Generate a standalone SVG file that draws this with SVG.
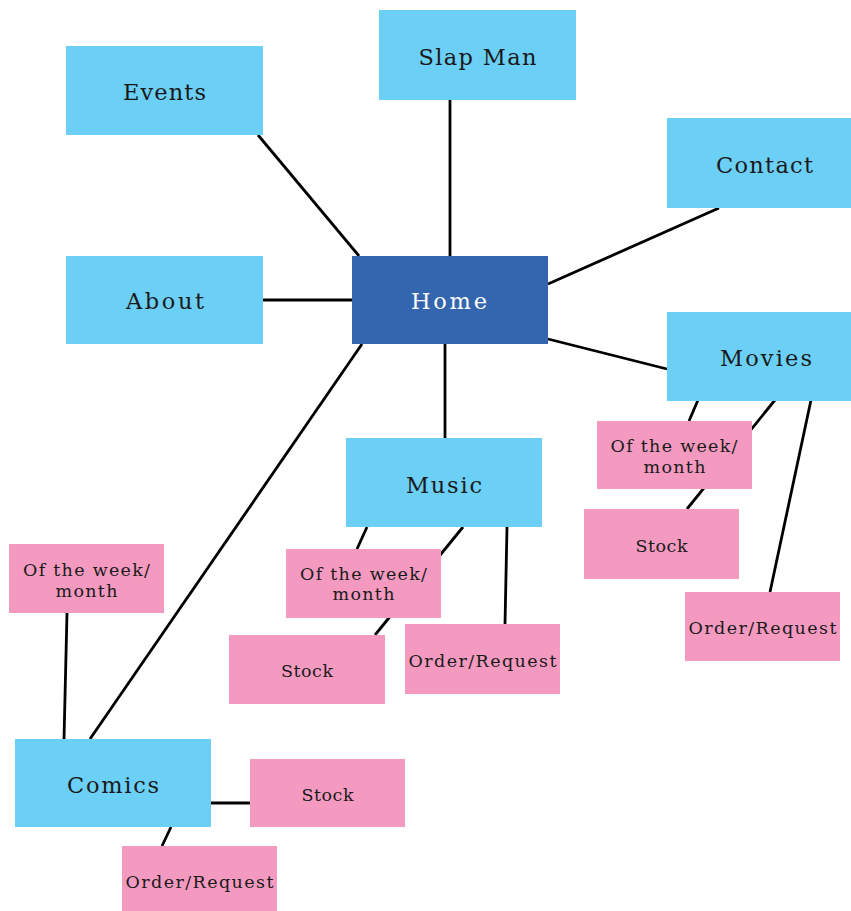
<svg xmlns="http://www.w3.org/2000/svg" width="851" height="911" viewBox="0 0 851 911">
<style>
.main{fill:#6ccff6}
.home{fill:#3466b0}
.sub{fill:#f49ac1}
text{font-family:"DejaVu Serif","Liberation Serif",serif;text-anchor:middle;fill:#1a1a1a}
.t1{font-size:22.5px}
.t2{font-size:17.5px}
.w{fill:#ffffff}
#connectors line{stroke:#000;stroke-width:2.8;stroke-linecap:butt}
</style>
<rect width="851" height="911" fill="#ffffff"/>
<g id="connectors">
<line x1="258" y1="135" x2="359" y2="256"/>
<line x1="450" y1="100" x2="450" y2="256"/>
<line x1="719" y1="208" x2="548" y2="284"/>
<line x1="263" y1="300" x2="352" y2="300"/>
<line x1="548" y1="339" x2="667" y2="369"/>
<line x1="445" y1="344" x2="445" y2="438"/>
<line x1="362" y1="344" x2="90" y2="739"/>
<line x1="367" y1="527" x2="357" y2="549"/>
<line x1="463" y1="527" x2="375" y2="635"/>
<line x1="507" y1="527" x2="505" y2="624"/>
<line x1="698" y1="400" x2="689" y2="421"/>
<line x1="775" y1="400" x2="687" y2="509"/>
<line x1="811" y1="400" x2="770" y2="592"/>
<line x1="67" y1="613" x2="64" y2="739"/>
<line x1="211" y1="803" x2="250" y2="803"/>
<line x1="171" y1="827" x2="162" y2="846"/>
</g>
<g id="events"><rect class="main" x="66" y="46" width="197" height="89"/><text class="t1" x="164.5" y="100" textLength="83">Events</text></g>
<g id="slapman"><rect class="main" x="379" y="10" width="197" height="90"/><text class="t1" x="477.5" y="65" textLength="118">Slap Man</text></g>
<g id="contact"><rect class="main" x="667" y="118" width="184" height="90"/><text class="t1" x="764.5" y="173" textLength="97">Contact</text></g>
<g id="about"><rect class="main" x="66" y="256" width="197" height="88"/><text class="t1" x="165" y="309" textLength="78">About</text></g>
<g id="home"><rect class="home" x="352" y="256" width="196" height="88"/><text class="t1 w" x="449" y="309" textLength="76">Home</text></g>
<g id="movies"><rect class="main" x="667" y="312" width="184" height="89"/><text class="t1" x="766" y="366" textLength="92">Movies</text></g>
<g id="music"><rect class="main" x="346" y="438" width="196" height="89"/><text class="t1" x="444" y="493" textLength="76">Music</text></g>
<g id="comics"><rect class="main" x="15" y="739" width="196" height="88"/><text class="t1" x="113" y="793" textLength="92">Comics</text></g>
<g id="movies-week"><rect class="sub" x="597" y="421" width="155" height="68"/><text class="t2" x="674" y="452" textLength="127">Of the week/</text><text class="t2" x="674.5" y="473" textLength="62">month</text></g>
<g id="movies-stock"><rect class="sub" x="584" y="509" width="155" height="70"/><text class="t2" x="661.5" y="552" textLength="52">Stock</text></g>
<g id="movies-order"><rect class="sub" x="685" y="592" width="155" height="69"/><text class="t2" x="762.5" y="634" textLength="148">Order/Request</text></g>
<g id="music-week"><rect class="sub" x="286" y="549" width="155" height="69"/><text class="t2" x="363.5" y="580" textLength="127">Of the week/</text><text class="t2" x="363.5" y="600" textLength="62">month</text></g>
<g id="music-stock"><rect class="sub" x="229" y="635" width="156" height="69"/><text class="t2" x="307" y="677" textLength="52">Stock</text></g>
<g id="music-order"><rect class="sub" x="405" y="624" width="155" height="70"/><text class="t2" x="482.5" y="667" textLength="148">Order/Request</text></g>
<g id="comics-week"><rect class="sub" x="9" y="544" width="155" height="69"/><text class="t2" x="86.5" y="576" textLength="127">Of the week/</text><text class="t2" x="86.5" y="597" textLength="62">month</text></g>
<g id="comics-stock"><rect class="sub" x="250" y="759" width="155" height="68"/><text class="t2" x="327.5" y="801" textLength="52">Stock</text></g>
<g id="comics-order"><rect class="sub" x="122" y="846" width="155" height="65"/><text class="t2" x="199.5" y="888" textLength="148">Order/Request</text></g>
</svg>
